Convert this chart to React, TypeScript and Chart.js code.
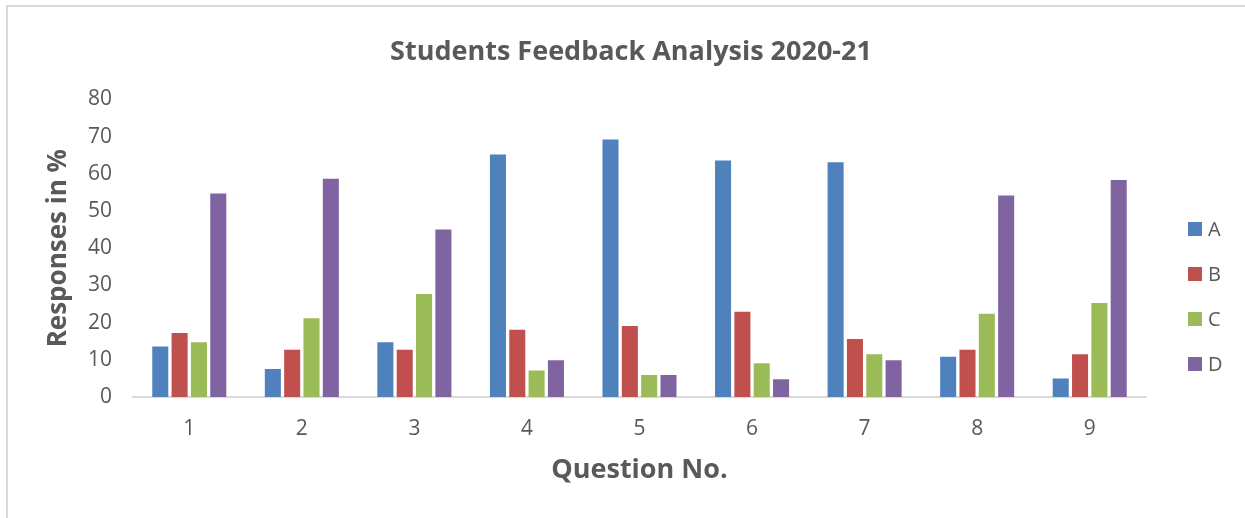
import React, { useEffect, useRef } from "react";
import { Chart, registerables } from "chart.js";

Chart.register(...registerables);

const categories = ["1", "2", "3", "4", "5", "6", "7", "8", "9"];
const seriesA = [13.6, 7.5, 14.7, 65.2, 69.2, 63.6, 63.1, 10.8, 5.0];
const seriesB = [17.2, 12.7, 12.7, 18.1, 19.1, 22.9, 15.6, 12.7, 11.5];
const seriesC = [14.7, 21.2, 27.7, 7.1, 5.9, 9.1, 11.5, 22.4, 25.3];
const seriesD = [54.7, 58.7, 45.0, 9.9, 5.9, 4.8, 9.9, 54.2, 58.3];
const seriesNames = ["A", "B", "C", "D"];
const seriesColors = ["#4F81BD", "#C0504D", "#9BBB59", "#8064A2"];
const yMin = 0;
const yMax = 80;
const yStep = 10;

const titleText = "Students Feedback Analysis 2020-21";
const yTitle = "Responses in %";
const xTitle = "Question No.";

const FONT = "'Open Sans', 'Noto Sans', sans-serif";
const TEXT = "#595959";

const sideLegend = {
  id: "sideLegend",
  afterDraw(chart: any) {
    const ctx = chart.ctx;
    const x = chart.chartArea.right + 42;
    ctx.save();
    chart.data.datasets.forEach((ds: any, i: number) => {
      const cy = 229 + i * 45;
      ctx.fillStyle = ds.backgroundColor;
      ctx.fillRect(x, cy - 7, 14, 14);
      ctx.fillStyle = TEXT;
      ctx.font = `20px ${FONT}`;
      ctx.textBaseline = "middle";
      ctx.textAlign = "left";
      ctx.fillText(ds.label, x + 20, cy + 1);
    });
    ctx.restore();
  },
};

export default function App() {
  const ref = useRef<HTMLCanvasElement>(null);

  useEffect(() => {
    if (!ref.current) return;
    const seriesValues = [seriesA, seriesB, seriesC, seriesD];
    const chart = new Chart(ref.current, {
      type: "bar",
      data: {
        labels: categories,
        datasets: seriesNames.map((name, i) => ({
          label: name,
          data: seriesValues[i],
          backgroundColor: seriesColors[i],
          categoryPercentage: 0.687,
          barPercentage: 0.83,
        })),
      },
      options: {
        animation: false,
        responsive: false,
        devicePixelRatio: 1,
        layout: { padding: { left: 17, right: 0, top: 0, bottom: 0 } },
        plugins: {
          legend: { display: false },
          tooltip: { enabled: false },
          title: {
            display: true,
            text: titleText,
            color: TEXT,
            font: { family: FONT, size: 27, weight: "bold" },
            padding: { top: 36, bottom: 31 },
          },
        },
        scales: {
          x: {
            grid: { display: false, drawTicks: false },
            border: { display: true, color: "#d9d9d9", width: 2 },
            ticks: {
              color: TEXT,
              font: { family: FONT, size: 21 },
              padding: 19,
            },
            title: {
              display: true,
              text: xTitle,
              color: TEXT,
              font: { family: FONT, size: 27, weight: "bold" },
              padding: { top: 0, bottom: 31 },
            },
            afterFit: (s: any) => {
              s.height = 121;
            },
          },
          y: {
            min: yMin,
            max: yMax,
            grid: { display: false, drawTicks: false },
            border: { display: false },
            ticks: {
              stepSize: yStep,
              color: TEXT,
              font: { family: FONT, size: 21 },
              padding: 21,
            },
            title: {
              display: true,
              text: yTitle,
              color: TEXT,
              font: { family: FONT, size: 26, weight: "bold" },
              padding: { top: 26, bottom: 0 },
            },
            afterFit: (s: any) => {
              s.width = 116;
            },
          },
          pad: {
            type: "linear",
            position: "right",
            display: true,
            grid: { display: false, drawTicks: false },
            border: { display: false },
            ticks: { display: false },
            afterFit: (s: any) => {
              s.width = 99;
            },
          },
        },
      },
      plugins: [sideLegend],
    } as any);
    return () => chart.destroy();
  }, []);

  return (
    <div
      style={{
        position: "fixed",
        left: 0,
        top: 0,
        width: 1245,
        height: 518,
        background: "#fff",
        overflow: "hidden",
      }}
    >
      <canvas
        ref={ref}
        width={1245}
        height={518}
        style={{ position: "absolute", left: 0, top: 0, width: 1245, height: 518 }}
      />
      <div
        style={{
          position: "absolute",
          left: 6,
          top: 5,
          width: 1245,
          height: 518,
          borderTop: "2px solid #d9d9d9",
          borderLeft: "2px solid #d9d9d9",
          pointerEvents: "none",
        }}
      />
    </div>
  );
}
